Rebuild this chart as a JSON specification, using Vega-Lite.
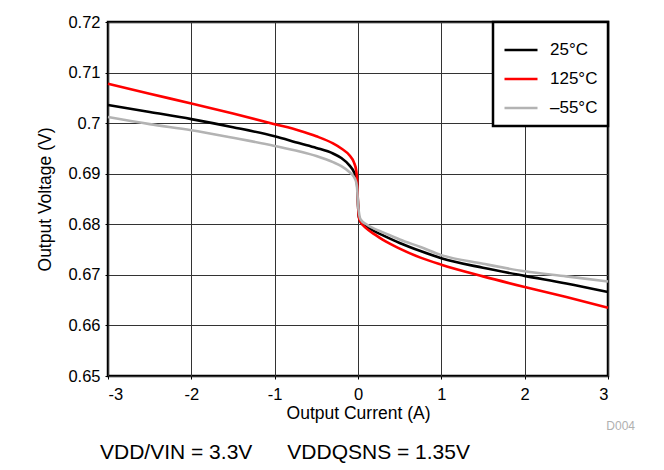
{
  "$schema": "https://vega.github.io/schema/vega-lite/v6.json",
  "autosize": "none",
  "width": 500,
  "height": 354,
  "padding": {"left": 108, "top": 22, "right": 56, "bottom": 94},
  "background": "white",
  "config": {
    "font": "Liberation Sans",
    "view": {"stroke": "black", "strokeWidth": 2.5},
    "axis": {
      "grid": true, "gridColor": "#333333", "gridWidth": 1, "gridOpacity": 1,
      "domain": false, "tickColor": "black", "tickSize": 3,
      "labelFont": "Liberation Sans", "labelFontSize": 16.5, "labelColor": "black",
      "titleFont": "Liberation Sans", "titleFontSize": 17.5, "titleFontWeight": "normal", "titleColor": "black"
    }
  },
  "title": {
    "text": "VDD/VIN = 3.3V\u00a0\u00a0\u00a0\u00a0\u00a0\u00a0VDDQSNS = 1.35V",
    "orient": "bottom", "anchor": "start", "frame": "group",
    "offset": 10, "dx": -8, "fontSize": 21, "fontWeight": "normal",
    "font": "Liberation Sans", "color": "black"
  },
  "data": {"values": [
    {"I": -3, "V": 0.7036, "T": "25°C"},
    {"I": -2.5, "V": 0.7022, "T": "25°C"},
    {"I": -2, "V": 0.7008, "T": "25°C"},
    {"I": -1.5, "V": 0.6992, "T": "25°C"},
    {"I": -1, "V": 0.6974, "T": "25°C"},
    {"I": -0.7, "V": 0.696, "T": "25°C"},
    {"I": -0.5, "V": 0.6951, "T": "25°C"},
    {"I": -0.3, "V": 0.694, "T": "25°C"},
    {"I": -0.2, "V": 0.6931, "T": "25°C"},
    {"I": -0.1, "V": 0.6916, "T": "25°C"},
    {"I": -0.05, "V": 0.6904, "T": "25°C"},
    {"I": -0.02, "V": 0.689, "T": "25°C"},
    {"I": -0.01, "V": 0.6878, "T": "25°C"},
    {"I": 0, "V": 0.684, "T": "25°C"},
    {"I": 0.01, "V": 0.6815, "T": "25°C"},
    {"I": 0.03, "V": 0.6805, "T": "25°C"},
    {"I": 0.1, "V": 0.6796, "T": "25°C"},
    {"I": 0.2, "V": 0.6786, "T": "25°C"},
    {"I": 0.3, "V": 0.6778, "T": "25°C"},
    {"I": 0.5, "V": 0.6763, "T": "25°C"},
    {"I": 0.75, "V": 0.6747, "T": "25°C"},
    {"I": 1, "V": 0.6733, "T": "25°C"},
    {"I": 1.5, "V": 0.6714, "T": "25°C"},
    {"I": 2, "V": 0.6698, "T": "25°C"},
    {"I": 2.5, "V": 0.6683, "T": "25°C"},
    {"I": 3, "V": 0.6666, "T": "25°C"},
    {"I": -3, "V": 0.7078, "T": "125°C"},
    {"I": -2.5, "V": 0.7058, "T": "125°C"},
    {"I": -2, "V": 0.7039, "T": "125°C"},
    {"I": -1.5, "V": 0.7019, "T": "125°C"},
    {"I": -1, "V": 0.6998, "T": "125°C"},
    {"I": -0.7, "V": 0.6985, "T": "125°C"},
    {"I": -0.5, "V": 0.6974, "T": "125°C"},
    {"I": -0.3, "V": 0.696, "T": "125°C"},
    {"I": -0.2, "V": 0.695, "T": "125°C"},
    {"I": -0.1, "V": 0.6936, "T": "125°C"},
    {"I": -0.05, "V": 0.6923, "T": "125°C"},
    {"I": -0.02, "V": 0.6905, "T": "125°C"},
    {"I": -0.01, "V": 0.6885, "T": "125°C"},
    {"I": 0, "V": 0.684, "T": "125°C"},
    {"I": 0.01, "V": 0.6815, "T": "125°C"},
    {"I": 0.03, "V": 0.6805, "T": "125°C"},
    {"I": 0.1, "V": 0.6792, "T": "125°C"},
    {"I": 0.2, "V": 0.678, "T": "125°C"},
    {"I": 0.3, "V": 0.6769, "T": "125°C"},
    {"I": 0.5, "V": 0.6752, "T": "125°C"},
    {"I": 0.75, "V": 0.6734, "T": "125°C"},
    {"I": 1, "V": 0.672, "T": "125°C"},
    {"I": 1.5, "V": 0.6697, "T": "125°C"},
    {"I": 2, "V": 0.6676, "T": "125°C"},
    {"I": 2.5, "V": 0.6656, "T": "125°C"},
    {"I": 3, "V": 0.6635, "T": "125°C"},
    {"I": -3, "V": 0.7012, "T": "–55°C"},
    {"I": -2.5, "V": 0.6998, "T": "–55°C"},
    {"I": -2, "V": 0.6986, "T": "–55°C"},
    {"I": -1.5, "V": 0.6971, "T": "–55°C"},
    {"I": -1, "V": 0.6955, "T": "–55°C"},
    {"I": -0.7, "V": 0.6944, "T": "–55°C"},
    {"I": -0.5, "V": 0.6935, "T": "–55°C"},
    {"I": -0.3, "V": 0.6923, "T": "–55°C"},
    {"I": -0.2, "V": 0.6915, "T": "–55°C"},
    {"I": -0.1, "V": 0.6903, "T": "–55°C"},
    {"I": -0.05, "V": 0.6894, "T": "–55°C"},
    {"I": -0.02, "V": 0.6882, "T": "–55°C"},
    {"I": -0.01, "V": 0.687, "T": "–55°C"},
    {"I": 0, "V": 0.684, "T": "–55°C"},
    {"I": 0.01, "V": 0.6825, "T": "–55°C"},
    {"I": 0.03, "V": 0.681, "T": "–55°C"},
    {"I": 0.1, "V": 0.68, "T": "–55°C"},
    {"I": 0.2, "V": 0.6791, "T": "–55°C"},
    {"I": 0.3, "V": 0.6784, "T": "–55°C"},
    {"I": 0.5, "V": 0.677, "T": "–55°C"},
    {"I": 0.75, "V": 0.6755, "T": "–55°C"},
    {"I": 1, "V": 0.6739, "T": "–55°C"},
    {"I": 1.5, "V": 0.6722, "T": "–55°C"},
    {"I": 2, "V": 0.6707, "T": "–55°C"},
    {"I": 2.5, "V": 0.6697, "T": "–55°C"},
    {"I": 3, "V": 0.6687, "T": "–55°C"}
  ]},
  "layer": [
    {
      "mark": {"type": "line", "strokeWidth": 2.6, "interpolate": "monotone"},
      "encoding": {
        "x": {"field": "I", "type": "quantitative",
          "scale": {"domain": [-3, 3], "nice": false},
          "axis": {"values": [-3, -2, -1, 0, 1, 2, 3], "title": "Output Current (A)",
            "labelExpr": "'' + datum.value", "labelPadding": 7, "titlePadding": 2}},
        "y": {"field": "V", "type": "quantitative",
          "scale": {"domain": [0.65, 0.72], "nice": false, "zero": false},
          "axis": {"values": [0.65, 0.66, 0.67, 0.68, 0.69, 0.7, 0.71, 0.72], "format": ".2~f",
            "title": "Output Voltage (V)", "labelPadding": 5, "titlePadding": 13}},
        "color": {"field": "T", "type": "nominal",
          "scale": {"domain": ["25°C", "125°C", "–55°C"], "range": ["#000000", "#ff0000", "#b3b3b3"]},
          "legend": {"title": null, "orient": "top-right", "offset": 0,
            "fillColor": "white", "strokeColor": "black",
            "padding": 10, "symbolType": "stroke", "symbolSize": 1089, "symbolStrokeWidth": 2.6,
            "labelFontSize": 17, "labelFont": "Liberation Sans", "labelColor": "black",
            "rowPadding": 3, "labelOffset": 11,
            "encode": {"legend": {"update": {"strokeWidth": {"value": 2.5}}}}}},
        "order": {"field": "I", "type": "quantitative"}
      }
    },
    {
      "data": {"values": [{"note": "D004", "I": 3, "V": 0.65}]},
      "mark": {"type": "text", "align": "right", "baseline": "middle", "dx": 27, "dy": 50,
        "fontSize": 12, "color": "#b0b0b0", "font": "Liberation Sans"},
      "encoding": {
        "x": {"field": "I", "type": "quantitative"},
        "y": {"field": "V", "type": "quantitative"},
        "text": {"field": "note"}
      }
    }
  ]
}
